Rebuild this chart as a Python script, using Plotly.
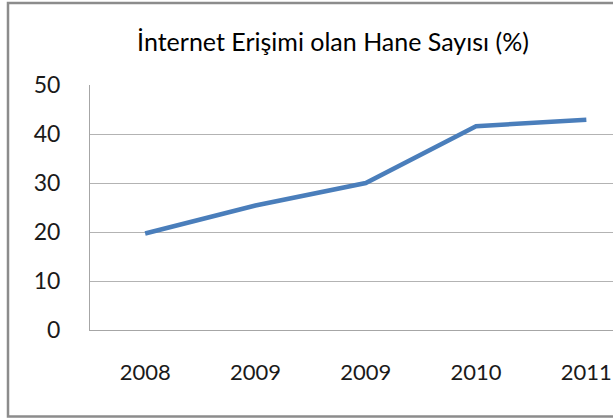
import plotly.graph_objects as go

years = ["2008", "2009", "2009", "2010", "2011"]
values = [19.7, 25.4, 30.0, 41.6, 42.9]
y_ticks = [0, 10, 20, 30, 40, 50]

x_pos = list(range(len(years)))

W, H = 613, 418
ml, mr, mt, mb = 90, 0, 85, 88
pw, ph = W - ml - mr, H - mt - mb
cat_px = 110.3

fig = go.Figure()
fig.add_trace(go.Scatter(
    x=x_pos, y=values, mode="lines",
    line=dict(color="#4A7EBB", width=4.5),
    hoverinfo="skip", showlegend=False,
))

font = dict(family="Lato, 'Noto Sans', sans-serif", size=23, color="#1a1a1a")

fig.update_layout(
    width=W, height=H,
    margin=dict(l=ml, r=mr, t=mt, b=mb, autoexpand=False),
    paper_bgcolor="white", plot_bgcolor="white",
    font=font,
    title=dict(text="İnternet Erişimi olan Hane Sayısı (%)",
               x=333 / W, xref="container", xanchor="center",
               y=1 - 42 / H, yref="container", yanchor="middle",
               font=dict(family="Lato, 'Noto Sans', sans-serif", size=25, color="#000000")),
    xaxis=dict(
        range=[-0.5, -0.5 + pw / cat_px],
        tickvals=x_pos, ticktext=years,
        tickfont=dict(size=22),
        showgrid=False, zeroline=False,
        showline=True, linecolor="#a6a6a6", linewidth=1,
        ticks="", ticklabelstandoff=23, automargin=False,
        ticklabeloverflow="allow",
        fixedrange=True,
    ),
    yaxis=dict(
        range=[0, 50], tickvals=y_ticks,
        showgrid=True, gridcolor="#b3b3b3", gridwidth=1,
        zeroline=False,
        showline=True, linecolor="#a6a6a6", linewidth=1,
        ticks="", ticklabelstandoff=24, automargin=False,
        fixedrange=True,
    ),
    shapes=[dict(
        type="rect", xref="paper", yref="paper",
        x0=(8 - ml) / pw, x1=1.2,
        y0=((H - 416.5) - mb) / ph, y1=((H - 3) - mb) / ph,
        line=dict(color="#8c8c8c", width=2.5), fillcolor="rgba(0,0,0,0)",
        layer="below",
    )],
)

fig.write_html(
    "out.html",
    config={"displayModeBar": False},
    post_script="document.body.style.margin='0';document.body.style.overflow='hidden';",
)
